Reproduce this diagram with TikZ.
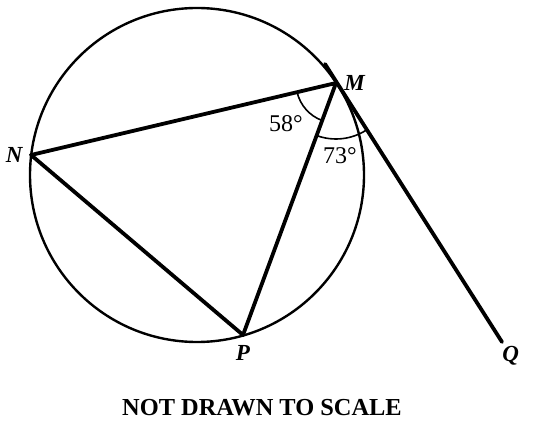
\documentclass[tikz,border=0pt]{standalone}
\usepackage{fontspec}
\setmainfont{Liberation Serif}
\usetikzlibrary{positioning}
\usetikzlibrary{angles}

\begin{document}
\begin{tikzpicture}[x=0.5pt,y=-0.5pt,
    chord/.style={line width=1.9pt,line cap=round,line join=round},
    lbl/.style={inner sep=0pt,font=\fontsize{11.5}{13}\selectfont\bfseries\itshape},
    deg/.style={inner sep=0pt,font=\fontsize{12}{14}\selectfont}]
    \useasboundingbox (0,0) rectangle (549,426);
    \coordinate (O) at (197,175);
    \coordinate (N) at (31,155);
    \coordinate (M) at (336,83);
    \coordinate (P) at (243,335);
    \coordinate (Q) at (502,342);
    \coordinate (T) at (325,64);% top end of the tangent
    \draw [line width=1.2pt] (O) circle [radius=167];
    \draw [chord] (N) -- (M) -- (P) -- cycle;
    \draw [chord] (T) -- (Q);
    \pic [draw,line width=0.8pt,angle radius=20pt] {angle=N--M--P};
    \pic [draw,line width=0.8pt,angle radius=28pt] {angle=P--M--Q};
    \node (Mlbl) [lbl,right=4pt of M] {M};
    \node (Nlbl) [lbl,left=4pt of N]  {N};
    \node (Plbl) [lbl,below=5pt of P] {P};
    \node (Qlbl) [lbl,below right=2pt and 0pt of Q] {Q};
    \node (a58) [deg] at (286,124) {58°};
    \node (a73) [deg] at (340,156) {73°};
    \node (note) [font=\fontsize{12.2}{14}\selectfont\bfseries] at (262,408) {NOT DRAWN TO SCALE};
\end{tikzpicture}
\end{document}
